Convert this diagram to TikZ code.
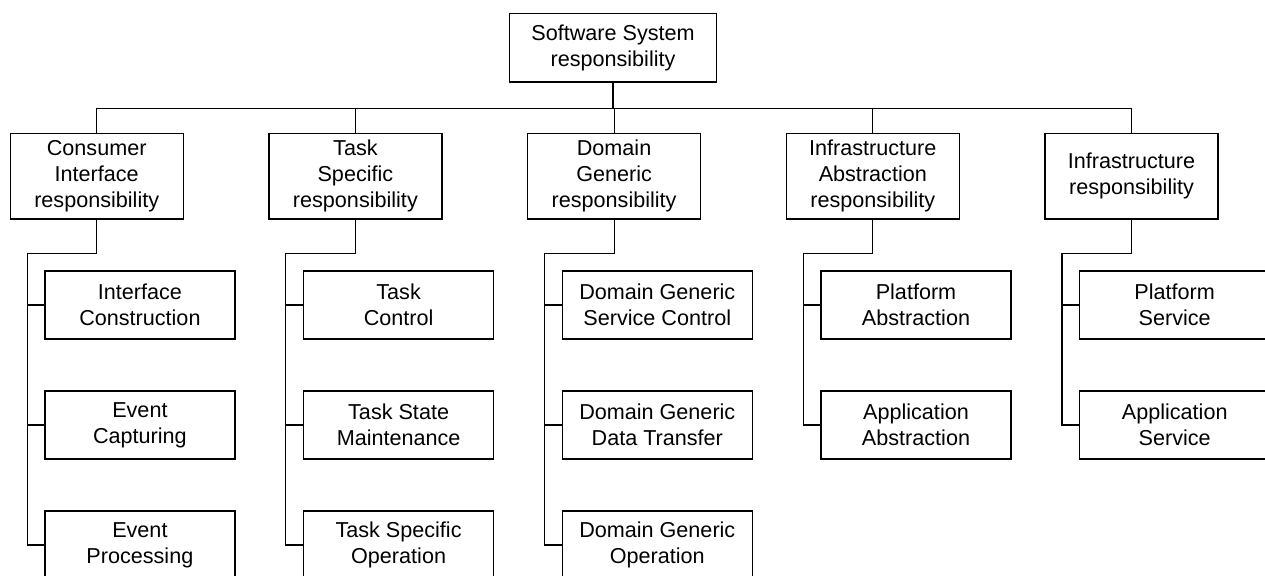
\documentclass[tikz,border=0pt]{standalone}
\usepackage{fontspec}
\setmainfont{Liberation Sans}
\usepackage{tikz}
\usetikzlibrary{positioning}
\tikzset{
    top/.style={
        rectangle,
        draw=black,
        line width=0.6pt,
        align=center,
        minimum width=103.5pt,
        minimum height=34.35pt,
        inner sep=0pt
    },
    resp/.style={
        rectangle,
        draw=black,
        line width=0.6pt,
        align=center,
        minimum width=86.5pt,
        minimum height=42.85pt,
        inner sep=0pt
    },
    part/.style={
        rectangle,
        draw=black,
        line width=0.6pt,
        align=center,
        minimum width=95pt,
        minimum height=34pt,
        inner sep=0pt
    },
    link/.style={
        line width=0.6pt
    }
}

\begin{document}
\begin{tikzpicture}[x=0.5pt,y=-0.5pt,font=\fontsize{10.8}{13}\selectfont]
          \useasboundingbox (0,0) rectangle (1265,575);
          \node (system) [top] at (613,47.7) {Software System\\responsibility};
          \node (consumer) [resp] at (96.7,176.2) {Consumer\\Interface\\responsibility};
          \node (task) [resp, right=42.25pt of consumer] {Task\\Specific\\responsibility};
          \node (domain) [resp, right=42.25pt of task] {Domain\\Generic\\responsibility};
          \node (infraabs) [resp, right=42.25pt of domain] {Infrastructure\\Abstraction\\responsibility};
          \node (infra) [resp, right=42.25pt of infraabs] {Infrastructure\\responsibility};
          % consumer interface
          \node (construction) [part, below=25.4pt of consumer, xshift=21.6pt] {Interface\\Construction};
          \node (capturing) [part, below=25.4pt of construction] {Event\\Capturing};
          \node (processing) [part, below=25.4pt of capturing] {Event\\Processing};
          % task specific
          \node (taskctrl) [part, below=25.4pt of task, xshift=21.6pt] {Task\\Control};
          \node (taskstate) [part, below=25.4pt of taskctrl] {Task State\\Maintenance};
          \node (taskop) [part, below=25.4pt of taskstate] {Task Specific\\Operation};
          % domain generic
          \node (servctrl) [part, below=25.4pt of domain, xshift=21.6pt] {Domain Generic\\Service Control};
          \node (transfer) [part, below=25.4pt of servctrl] {Domain Generic\\Data Transfer};
          \node (domop) [part, below=25.4pt of transfer] {Domain Generic\\Operation};
          % infrastructure abstraction
          \node (platabs) [part, below=25.4pt of infraabs, xshift=21.6pt] {Platform\\Abstraction};
          \node (appabs) [part, below=25.4pt of platabs] {Application\\Abstraction};
          % infrastructure
          \node (platserv) [part, below=25.4pt of infra, xshift=21.6pt] {Platform\\Service};
          \node (appserv) [part, below=25.4pt of platserv] {Application\\Service};

          \draw [link] (system.south) -- ++(0,-12.85pt) -| (consumer.north);
          \draw [link] (system.south) -- ++(0,-12.85pt) -| (task.north);
          \draw [link] (system.south) -- ++(0,-12.85pt) -| (domain.north);
          \draw [link] (system.south) -- ++(0,-12.85pt) -| (infraabs.north);
          \draw [link] (system.south) -- ++(0,-12.85pt) -| (infra.north);

          \draw [link] (consumer.south) -- ++(0,-17pt) -| ([xshift=-8.6pt]processing.west) -- (processing.west);
          \draw [link] ([xshift=-8.6pt]construction.west) -- (construction.west);
          \draw [link] ([xshift=-8.6pt]capturing.west) -- (capturing.west);
          \draw [link] (task.south) -- ++(0,-17pt) -| ([xshift=-8.6pt]taskop.west) -- (taskop.west);
          \draw [link] ([xshift=-8.6pt]taskctrl.west) -- (taskctrl.west);
          \draw [link] ([xshift=-8.6pt]taskstate.west) -- (taskstate.west);
          \draw [link] (domain.south) -- ++(0,-17pt) -| ([xshift=-8.6pt]domop.west) -- (domop.west);
          \draw [link] ([xshift=-8.6pt]servctrl.west) -- (servctrl.west);
          \draw [link] ([xshift=-8.6pt]transfer.west) -- (transfer.west);
          \draw [link] (infraabs.south) -- ++(0,-17pt) -| ([xshift=-8.6pt]appabs.west) -- (appabs.west);
          \draw [link] ([xshift=-8.6pt]platabs.west) -- (platabs.west);
          \draw [link] (infra.south) -- ++(0,-17pt) -| ([xshift=-8.6pt]appserv.west) -- (appserv.west);
          \draw [link] ([xshift=-8.6pt]platserv.west) -- (platserv.west);
        \end{tikzpicture}
\end{document}
